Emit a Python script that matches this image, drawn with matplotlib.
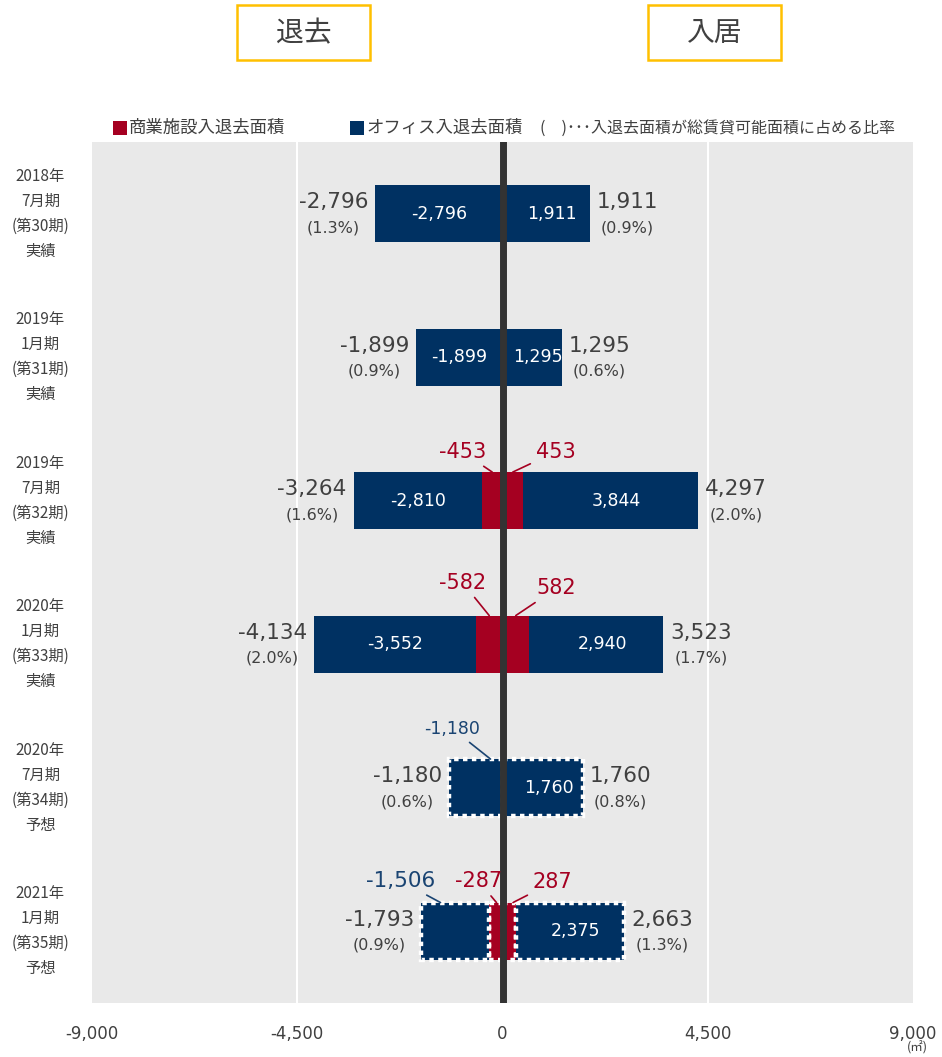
import matplotlib.pyplot as plt
from matplotlib.patches import Rectangle
from matplotlib.offsetbox import TextArea, VPacker, AnnotationBbox

plt.rcParams['font.family'] = ['DejaVu Sans', 'Noto Sans CJK JP']
JP = ['Noto Sans CJK JP', 'DejaVu Sans']

# data
periods = ["2018年\n7月期\n(第30期)\n実績", "2019年\n1月期\n(第31期)\n実績",
           "2019年\n7月期\n(第32期)\n実績", "2020年\n1月期\n(第33期)\n実績",
           "2020年\n7月期\n(第34期)\n予想", "2021年\n1月期\n(第35期)\n予想"]
retail_out = [0, 0, -453, -582, 0, -287]
office_out = [-2796, -1899, -2810, -3552, -1180, -1506]
retail_in = [0, 0, 453, 582, 0, 287]
office_in = [1911, 1295, 3844, 2940, 1760, 2375]
total_out = [-2796, -1899, -3264, -4134, -1180, -1793]
total_in = [1911, 1295, 4297, 3523, 1760, 2663]
ratio_out = ["1.3", "0.9", "1.6", "2.0", "0.6", "0.9"]
ratio_in = ["0.9", "0.6", "2.0", "1.7", "0.8", "1.3"]
forecast = [False, False, False, False, True, True]
label_inside_out = [True, True, True, True, False, False]
xticks = [-9000, -4500, 0, 4500, 9000]

RED = '#A50021'
NAVY = '#003162'
NAVY_TXT = '#1A4472'
GREY_TXT = '#404040'

fig = plt.figure(figsize=(9.42, 10.57), dpi=100)
ax = fig.add_axes([92 / 942, 1 - 1003 / 1057, 821 / 942, 861 / 1057])
ax.set_facecolor('#E9E9E9')

y = list(range(len(periods)))
h = 0.4
for i in y:
    if forecast[i]:
        kw = dict(edgecolor='white', linewidth=3.2, linestyle=(0, (1, 1)))
    else:
        kw = dict(linewidth=0)
    if retail_out[i]:
        ax.barh(i, retail_out[i], height=h, color=RED, zorder=3, **kw)
        ax.barh(i, retail_in[i], height=h, color=RED, zorder=3, **kw)
    ax.barh(i, office_out[i], left=retail_out[i], height=h, color=NAVY, zorder=3, **kw)
    ax.barh(i, office_in[i], left=retail_in[i], height=h, color=NAVY, zorder=3, **kw)

    # white labels inside office bars
    if label_inside_out[i]:
        ax.text(retail_out[i] + office_out[i] / 2, i, f"{office_out[i]:,}", color='white',
                fontsize=12.5, ha='center', va='center', zorder=5)
    ax.text(retail_in[i] + office_in[i] / 2 + 130, i, f"{office_in[i]:,}", color='white',
            fontsize=12.5, ha='center', va='center', zorder=5)

    # totals with ratios
    for val, r, side in [(total_out[i], ratio_out[i], -1), (total_in[i], ratio_in[i], 1)]:
        box = VPacker(children=[TextArea(f"{val:,}", textprops=dict(color=GREY_TXT, fontsize=15.5)),
                                TextArea(f"({r}%)", textprops=dict(color=GREY_TXT, fontsize=11.5))],
                      align='center', pad=0, sep=6)
        ab = AnnotationBbox(box, (val, i), xybox=(5 * side, 0), boxcoords='offset points',
                            box_alignment=(0 if side > 0 else 1, 0.5), frameon=False, zorder=6)
        ax.add_artist(ab)

# leader-line labels: (text, color, size, text xy, target xy)
callouts = [
    ("-453", RED, 15, (-877, 1.66), (-226, 1.8)),
    ("453", RED, 15, (1162, 1.66), (226, 1.8)),
    ("-582", RED, 15, (-877, 2.57), (-291, 2.8)),
    ("582", RED, 15, (1184, 2.61), (291, 2.8)),
    ("-1,180", NAVY_TXT, 12.5, (-1096, 3.59), (-263, 3.8)),
    ("-1,506", NAVY_TXT, 15.5, (-2236, 4.65), (-1359, 4.8)),
    ("-287", RED, 15, (-526, 4.65), (-132, 4.8)),
    ("287", RED, 15, (1096, 4.66), (230, 4.8)),
]
for txt, c, fs, xyt, xy in callouts:
    ax.annotate(txt, xy=xy, xytext=xyt, color=c, fontsize=fs, ha='center', va='center',
                arrowprops=dict(arrowstyle='-', color=c, lw=1.2, shrinkA=2, shrinkB=0), zorder=6)

ax.axvline(0, color='#333333', lw=5, zorder=4)
for gx in [-4500, 4500]:
    ax.axvline(gx, color='white', lw=1.5, zorder=1)

ax.set_xlim(-9000, 9000)
ax.set_ylim(len(periods) - 0.5, -0.5)
ax.set_xticks(xticks)
ax.set_xticklabels([f"{t:,}" for t in xticks], color=GREY_TXT, fontsize=12)
ax.tick_params(axis='x', length=0, pad=16)
ax.set_yticks([])
for s in ax.spines.values():
    s.set_visible(False)

for i, p in enumerate(periods):
    ax.text(-0.063, i, p, transform=ax.get_yaxis_transform(), ha='center', va='center',
            fontsize=11, color=GREY_TXT, linespacing=1.62, family=JP)

fig.text(917 / 942, 1 - 1048 / 1057, "(㎡)", fontsize=9, color=GREY_TXT, ha='center', va='center', family=JP)

# header boxes
for x0, label in [(237, "退去"), (648, "入居")]:
    fig.patches.append(Rectangle((x0 / 942, 1 - 60 / 1057), 133 / 942, 55 / 1057, transform=fig.transFigure,
                                 fill=False, edgecolor='#FFC000', lw=1.8))
    fig.text((x0 + 66.5) / 942, 1 - 33 / 1057, label, fontsize=20, color=GREY_TXT, ha='center', va='center',
             family=JP)

# legend
ly = 1 - 128 / 1057
for x0, c, label in [(113, RED, "商業施設入退去面積"), (350, NAVY, "オフィス入退去面積")]:
    fig.patches.append(Rectangle((x0 / 942, ly - 7 / 1057), 14 / 942, 14 / 1057, transform=fig.transFigure,
                                 color=c, lw=0))
    fig.text((x0 + 16) / 942, ly, label, fontsize=12.5, color=GREY_TXT, ha='left', va='center', family=JP)
fig.text(540 / 942, ly, "(　)･･･入退去面積が総賃貸可能面積に占める比率", fontsize=11.5, color=GREY_TXT,
         ha='left', va='center', family=JP)

fig.savefig("out.png", dpi=100)
